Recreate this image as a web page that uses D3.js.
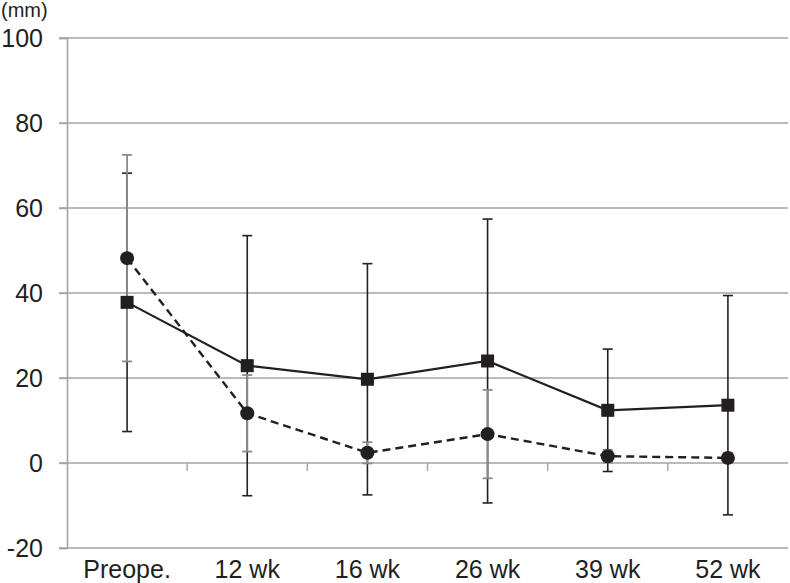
<!DOCTYPE html>
<html>
<head>
<meta charset="utf-8">
<script src="https://cdn.jsdelivr.net/npm/d3@7"></script>
<style>
  html, body { margin: 0; padding: 0; background: #fff; }
  svg { display: block; font-family: "Liberation Sans", Arial, Helvetica, sans-serif; }
</style>
</head>
<body>
<svg id="chart" width="790" height="583"></svg>
<script>
const categories = ["Preope.", "12 wk", "16 wk", "26 wk", "39 wk", "52 wk"];
const squareMean = [37.8, 22.9, 19.7, 24.0, 12.4, 13.6];
const squareSD   = [30.4, 30.6, 27.2, 33.4, 14.4, 25.8];
const circleMean = [48.2, 11.7, 2.4, 6.8, 1.6, 1.2];
const circleSD   = [24.3, 9.0, 2.5, 10.4, 1.5, 1.2];
const yTicks = [-20, 0, 20, 40, 60, 80, 100];
const unitLabel = "(mm)";

(function () {
const svg = d3.select("#chart");
const mLeft = 67, mRight = 788, mTop = 38, mBottom = 548;
const ink = "#231f20";
const gridColor = "#a3a3a3";

const x = d3.scaleBand().domain(categories).range([mLeft, mRight]).padding(0);
const y = d3.scaleLinear().domain([-20, 100]).range([mBottom, mTop]);
const cx = c => x(c) + x.bandwidth() / 2;

// gridlines
svg.append("g").selectAll("line").data(yTicks).join("line")
  .attr("x1", mLeft - 8).attr("x2", mRight)
  .attr("y1", d => y(d)).attr("y2", d => y(d))
  .attr("stroke", gridColor).attr("stroke-width", 1.4);

// y axis
const yAxis = svg.append("g").attr("transform", `translate(${mLeft},0)`)
  .call(d3.axisLeft(y).tickValues(yTicks).tickSize(8).tickPadding(16).tickFormat(d => String(d)));
yAxis.select(".domain").attr("stroke", gridColor).attr("stroke-width", 1.6);
yAxis.selectAll(".tick line").attr("stroke", gridColor).attr("stroke-width", 1.4);
yAxis.selectAll("text").attr("font-size", 25).attr("fill", ink)
  .attr("font-family", "'Liberation Sans', Arial, sans-serif");

// category boundary ticks on zero line
svg.append("g").selectAll("line").data(categories.slice(1)).join("line")
  .attr("x1", d => x(d)).attr("x2", d => x(d))
  .attr("y1", y(0)).attr("y2", y(0) + 8)
  .attr("stroke", gridColor).attr("stroke-width", 1.4);

// x labels
const xAxis = svg.append("g").attr("transform", `translate(0,${mBottom})`)
  .call(d3.axisBottom(x).tickSize(0).tickPadding(12));
xAxis.select(".domain").remove();
xAxis.selectAll("text").attr("font-size", 25).attr("fill", ink)
  .attr("font-family", "'Liberation Sans', Arial, sans-serif");

// unit label
svg.append("text").attr("x", 1).attr("y", 17).attr("font-size", 20).attr("fill", ink)
  .text(unitLabel);

// error bars
function errorBars(means, sds, color, width) {
  const g = svg.append("g").attr("stroke", color).attr("stroke-width", width).attr("fill", "none");
  categories.forEach((c, i) => {
    const lo = means[i] - sds[i], hi = means[i] + sds[i];
    g.append("line").attr("x1", cx(c)).attr("x2", cx(c)).attr("y1", y(lo)).attr("y2", y(hi));
    g.append("line").attr("x1", cx(c) - 5).attr("x2", cx(c) + 5).attr("y1", y(lo)).attr("y2", y(lo));
    g.append("line").attr("x1", cx(c) - 5).attr("x2", cx(c) + 5).attr("y1", y(hi)).attr("y2", y(hi));
  });
}
errorBars(squareMean, squareSD, ink, 1.6);
errorBars(circleMean, circleSD, "#8a8a8a", 1.8);

// lines
const line = d3.line().x((d, i) => cx(categories[i])).y(d => y(d));
svg.append("path").datum(squareMean).attr("d", line)
  .attr("fill", "none").attr("stroke", ink).attr("stroke-width", 2.2);
svg.append("path").datum(circleMean).attr("d", line)
  .attr("fill", "none").attr("stroke", ink).attr("stroke-width", 2.4)
  .attr("stroke-dasharray", "8,5");

// markers
const s = 13;
svg.append("g").selectAll("rect").data(squareMean).join("rect")
  .attr("x", (d, i) => cx(categories[i]) - s / 2).attr("y", d => y(d) - s / 2)
  .attr("width", s).attr("height", s).attr("fill", ink);
svg.append("g").selectAll("circle").data(circleMean).join("circle")
  .attr("cx", (d, i) => cx(categories[i])).attr("cy", d => y(d))
  .attr("r", 7).attr("fill", ink);
})();
</script>
</body>
</html>
